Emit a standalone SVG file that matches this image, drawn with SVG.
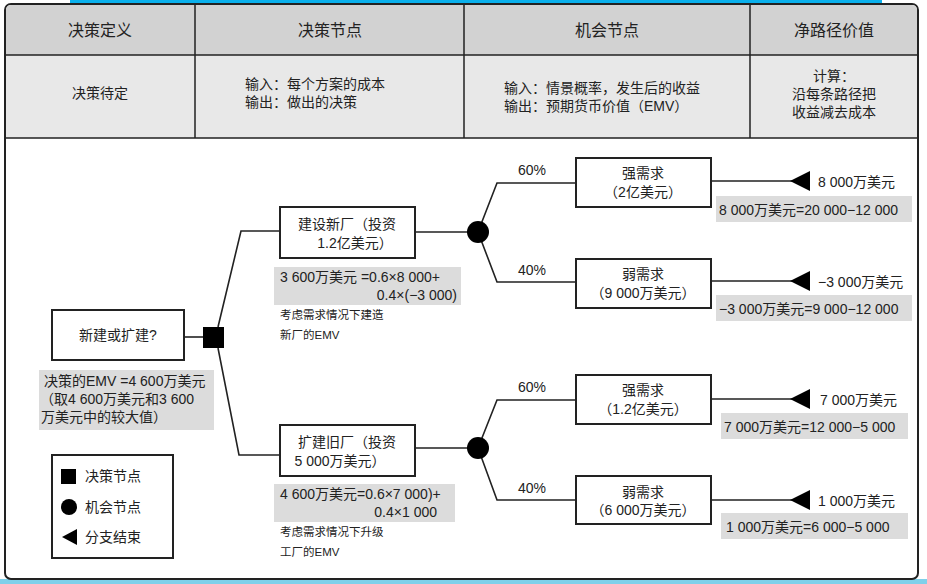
<svg xmlns="http://www.w3.org/2000/svg" width="927" height="584" viewBox="0 0 927 584">
<style>
text{font-family:"Liberation Sans","Noto Sans CJK SC",sans-serif;font-size:14px;fill:#222}
.h{font-size:16px}
.s{font-size:11.5px}
.box{fill:#fff;stroke:#222;stroke-width:2}
.gr{fill:#dcdcdc}
.ln{fill:none;stroke:#222;stroke-width:1.6}
.m{text-anchor:middle}
.e{text-anchor:end}
</style>
<rect x="0" y="0" width="927" height="584" fill="#fff"/>
<rect x="70" y="0" width="812" height="4" fill="#0ab0ec"/>
<rect x="0" y="579" width="927" height="5" fill="#7fd0ea"/>
<g id="table">
<rect x="5" y="4" width="913" height="575" rx="6" fill="#fff" stroke="#222" stroke-width="2"/>
<path d="M6 55 V10 Q6 5 11 5 H912 Q917 5 917 10 V55 Z" fill="#d2d2d2"/>
<rect x="6" y="55" width="911" height="83" fill="#e8e8e8"/>
<path d="M6 55 H917 M6 138 H917 M195 5 V138 M464 5 V138 M750 5 V138" stroke="#222" stroke-width="1.5"/>
<text class="h m" x="100" y="36">决策定义</text>
<text class="h m" x="330" y="36">决策节点</text>
<text class="h m" x="607" y="36">机会节点</text>
<text class="h m" x="834" y="36">净路径价值</text>
<text class="m" x="100" y="98">决策待定</text>
<text x="245" y="89">输入：每个方案的成本</text>
<text x="245" y="107">输出：做出的决策</text>
<text x="504" y="93">输入：情景概率，发生后的收益</text>
<text x="504" y="111">输出：预期货币价值（EMV）</text>
<text class="m" x="834" y="81">计算：</text>
<text class="m" x="834" y="99">沿每条路径把</text>
<text class="m" x="834" y="117">收益减去成本</text>
</g>
<g id="connectors" class="ln">
<path d="M184 337 H203"/>
<path d="M218 327 L241 231 H280"/>
<path d="M218 348 L239 455 H280"/>
<path d="M415 232 H478 M478 232 L497 183 H576 M478 232 L497 282 H576"/>
<path d="M415 448 H478 M478 448 L497 400 H576 M478 448 L497 500 H576"/>
<path d="M711 181 H792 M711 281 H792 M711 399 H792 M711 500 H792"/>
</g>
<g id="decision-main">
<rect class="box" x="52" y="310" width="132" height="50"/>
<text class="m" x="118" y="340">新建或扩建?</text>
<rect x="203" y="327" width="21" height="21" fill="#000"/>
<rect class="gr" x="39" y="370" width="175" height="60"/>
<text x="44" y="386">决策的EMV =4 600万美元</text>
<text x="40" y="404">（取4 600万美元和3 600</text>
<text x="41" y="422">万美元中的较大值）</text>
</g>
<g id="new-plant">
<rect class="box" x="280" y="207" width="135" height="51"/>
<text class="m" x="347" y="229">建设新厂（投资</text>
<text class="m" x="355" y="248">1.2亿美元）</text>
<rect class="gr" x="274" y="267" width="187" height="38"/>
<text x="280" y="282">3 600万美元 =0.6×8 000+</text>
<text class="e" x="457" y="300">0.4×(−3 000)</text>
<text class="s" x="280" y="319">考虑需求情况下建造</text>
<text class="s" x="280" y="339">新厂的EMV</text>
<circle cx="478" cy="232" r="11" fill="#000"/>
</g>
<g id="old-plant">
<rect class="box" x="280" y="425" width="135" height="51"/>
<text class="m" x="347" y="447">扩建旧厂（投资</text>
<text class="m" x="340" y="466">5 000万美元）</text>
<rect class="gr" x="274" y="484" width="181" height="38"/>
<text x="280" y="499">4 600万美元=0.6×7 000)+</text>
<text class="e" x="437" y="517">0.4×1 000</text>
<text class="s" x="280" y="536">考虑需求情况下升级</text>
<text class="s" x="280" y="556">工厂的EMV</text>
<circle cx="478" cy="448" r="11" fill="#000"/>
</g>
<g id="o1">
<text class="m" x="532" y="175">60%</text>
<rect class="box" x="576" y="158" width="135" height="49"/>
<text class="m" x="643" y="178">强需求</text>
<text class="m" x="643" y="197">（2亿美元）</text>
<path d="M790 181 L810 171 V191 Z" fill="#000"/>
<text x="818" y="187">8 000万美元</text>
<rect class="gr" x="716" y="196" width="196" height="26"/>
<text x="719" y="215">8 000万美元=20 000−12 000</text>
</g>
<g id="o2">
<text class="m" x="532" y="275">40%</text>
<rect class="box" x="576" y="259" width="135" height="49"/>
<text class="m" x="643" y="279">弱需求</text>
<text class="m" x="643" y="298">（9 000万美元）</text>
<path d="M790 281 L810 271 V291 Z" fill="#000"/>
<text x="818" y="287">−3 000万美元</text>
<rect class="gr" x="716" y="295" width="196" height="26"/>
<text x="719" y="314">−3 000万美元=9 000−12 000</text>
</g>
<g id="o3">
<text class="m" x="532" y="392">60%</text>
<rect class="box" x="576" y="375" width="135" height="49"/>
<text class="m" x="643" y="395">强需求</text>
<text class="m" x="643" y="414">（1.2亿美元）</text>
<path d="M790 399 L810 389 V409 Z" fill="#000"/>
<text x="820" y="405">7 000万美元</text>
<rect class="gr" x="721" y="413" width="187" height="26"/>
<text x="724" y="432">7 000万美元=12 000−5 000</text>
</g>
<g id="o4">
<text class="m" x="532" y="493">40%</text>
<rect class="box" x="576" y="476" width="135" height="48"/>
<text class="m" x="643" y="497">弱需求</text>
<text class="m" x="643" y="515">（6 000万美元）</text>
<path d="M790 500 L810 490 V510 Z" fill="#000"/>
<text x="818" y="506">1 000万美元</text>
<rect class="gr" x="721" y="513" width="187" height="26"/>
<text x="726" y="532">1 000万美元=6 000−5 000</text>
</g>
<g id="legend">
<rect class="box" x="52" y="455" width="121" height="103"/>
<rect x="61" y="469" width="15" height="15" fill="#000"/>
<text x="85" y="481">决策节点</text>
<circle cx="69" cy="507" r="8" fill="#000"/>
<text x="85" y="512">机会节点</text>
<path d="M62 537 L77 529 V545 Z" fill="#000"/>
<text x="85" y="542">分支结束</text>
</g>
</svg>
